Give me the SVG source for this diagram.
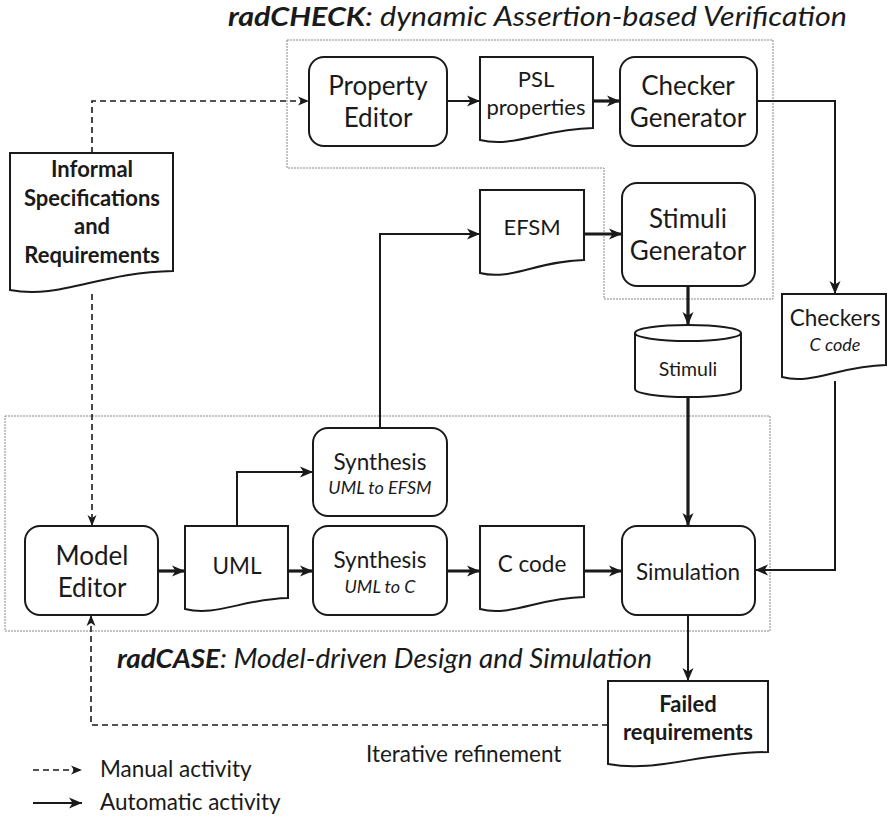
<svg xmlns="http://www.w3.org/2000/svg" width="888" height="820" viewBox="0 0 888 820">
  <style>
    text { font-family: Lato, "Liberation Sans", sans-serif; fill: #1a1a1a; }
    .c { text-anchor: middle; }
    .box { fill: #fff; stroke: #1a1a1a; stroke-width: 2; }
    .region { fill: none; stroke: #888; stroke-width: 1; stroke-dasharray: 2 1; }
    .thin { fill: none; stroke: #1a1a1a; stroke-width: 2; marker-end: url(#ah); }
    .thick { fill: none; stroke: #1a1a1a; stroke-width: 3.2; marker-end: url(#ah); }
    .manual { fill: none; stroke: #1a1a1a; stroke-width: 1.6; stroke-dasharray: 6 4; marker-end: url(#ahs); }
    .t24 { font-size: 26px; }
    .t21 { font-size: 22.5px; }
    .t20 { font-size: 22px; }
    .t18 { font-size: 19.5px; }
    .it { font-size: 18px; font-style: italic; }
    .b { font-size: 22px; font-weight: bold; }
    .lbl { font-size: 22.5px; }
    .head { font-size: 27px; font-style: italic; }
  </style>
  <defs>
    <marker id="ah" markerUnits="userSpaceOnUse" markerWidth="14" markerHeight="12" refX="13" refY="6" orient="auto">
      <path d="M0,0.5 L13,6 L0,11.5 L3.5,6 Z" fill="#1a1a1a"/>
    </marker>
    <marker id="ahs" markerUnits="userSpaceOnUse" markerWidth="12" markerHeight="10" refX="11" refY="5" orient="auto">
      <path d="M0,0.5 L11,5 L0,9.5 L3,5 Z" fill="#1a1a1a"/>
    </marker>
  </defs>

  <!-- tool regions -->
  <g id="region-radcheck">
    <path class="region" d="M287,40 H773 V299 H604 V168 H287 Z"/>
    <text class="head" x="228" y="26" textLength="619" lengthAdjust="spacingAndGlyphs"><tspan font-weight="bold">radCHECK</tspan>: dynamic Assertion-based Verification</text>
  </g>
  <g id="region-radcase">
    <rect class="region" x="5" y="416" width="765" height="215"/>
    <text class="head" x="117" y="668" textLength="535" lengthAdjust="spacingAndGlyphs"><tspan font-weight="bold">radCASE</tspan>: Model-driven Design and Simulation</text>
  </g>

  <!-- connectors -->
  <g id="connectors">
    <path class="manual" d="M92,153 V101 H309"/>
    <path class="manual" d="M92,294 V526"/>
    <path class="manual" d="M608,725 H91 V615"/>
    <path class="thin" d="M447,101 H480"/>
    <path class="thick" d="M593,101 H620"/>
    <path class="thin" d="M757,101 H835 V294"/>
    <path class="thick" d="M584,234 H622"/>
    <path class="thick" d="M688,286 V325"/>
    <path class="thin" d="M380,428 V234 H480"/>
    <path class="thick" d="M688,397 V526"/>
    <path class="thin" d="M835,381 V570 H755"/>
    <path class="thick" d="M158,571 H185"/>
    <path class="thick" d="M288,571 H313"/>
    <path class="thick" d="M447,571 H480"/>
    <path class="thick" d="M584,571 H622"/>
    <path class="thin" d="M237,526 V472 H313"/>
    <path class="thin" d="M688,615 V681"/>
  </g>

  <!-- nodes -->
  <g id="informal-specs">
    <path class="box" d="M10,153 H173 V271 C100,272 59,300 10,290 Z"/>
    <text class="c b" x="92" y="177">Informal</text>
    <text class="c b" x="92" y="206">Specifications</text>
    <text class="c b" x="92" y="234">and</text>
    <text class="c b" x="92" y="263">Requirements</text>
  </g>
  <g id="property-editor">
    <rect class="box" x="309" y="57" width="138" height="89" rx="15"/>
    <text class="c t24" x="378" y="95">Property</text>
    <text class="c t24" x="378" y="127">Editor</text>
  </g>
  <g id="psl-properties">
    <path class="box" d="M480,57 H593 V128 C542,129 514,148 480,140 Z"/>
    <text class="c t20" x="536" y="87">PSL</text>
    <text class="c t20" x="536" y="115">properties</text>
  </g>
  <g id="checker-generator">
    <rect class="box" x="620" y="57" width="137" height="89" rx="15"/>
    <text class="c t24" x="688" y="95">Checker</text>
    <text class="c t24" x="688" y="127">Generator</text>
  </g>
  <g id="efsm">
    <path class="box" d="M480,190 H584 V260 C537,261 511,281 480,273 Z"/>
    <text class="c t20" x="532" y="235">EFSM</text>
  </g>
  <g id="stimuli-generator">
    <rect class="box" x="622" y="183" width="133" height="103" rx="15"/>
    <text class="c t24" x="688" y="228">Stimuli</text>
    <text class="c t24" x="688" y="260">Generator</text>
  </g>
  <g id="stimuli">
    <path class="box" d="M635,333 V389 A53,8 0 0 0 741,389 V333"/>
    <ellipse class="box" cx="688" cy="333" rx="53" ry="8"/>
    <text class="c t18" x="688" y="376">Stimuli</text>
  </g>
  <g id="checkers">
    <path class="box" d="M782,294 H886 V365 C839,366 813,385 782,377 Z"/>
    <text class="c t21" x="835" y="326">Checkers</text>
    <text class="c it" x="835" y="351">C code</text>
  </g>
  <g id="model-editor">
    <rect class="box" x="25" y="526" width="133" height="89" rx="15"/>
    <text class="c t24" x="92" y="565">Model</text>
    <text class="c t24" x="92" y="597">Editor</text>
  </g>
  <g id="uml">
    <path class="box" d="M185,526 H288 V598 C242,599 216,617 185,609 Z"/>
    <text class="c t21" x="237" y="574">UML</text>
  </g>
  <g id="synthesis-efsm">
    <rect class="box" x="313" y="428" width="134" height="88" rx="15"/>
    <text class="c t21" x="380" y="470">Synthesis</text>
    <text class="c it" x="380" y="494">UML to EFSM</text>
  </g>
  <g id="synthesis-c">
    <rect class="box" x="313" y="526" width="134" height="89" rx="15"/>
    <text class="c t21" x="380" y="568">Synthesis</text>
    <text class="c it" x="380" y="593">UML to C</text>
  </g>
  <g id="c-code">
    <path class="box" d="M480,526 H584 V597 C537,598 511,617 480,609 Z"/>
    <text class="c t21" x="532" y="572">C code</text>
  </g>
  <g id="simulation">
    <rect class="box" x="622" y="526" width="133" height="89" rx="15"/>
    <text class="c t21" x="688" y="580">Simulation</text>
  </g>
  <g id="failed-requirements">
    <path class="box" d="M608,681 H768 V752 C696,753 656,773 608,764 Z"/>
    <text class="c b" x="688" y="712">Failed</text>
    <text class="c b" x="688" y="740">requirements</text>
  </g>

  <!-- loop label and legend -->
  <g id="labels">
    <text class="lbl" x="366" y="762">Iterative refinement</text>
  </g>
  <g id="legend">
    <path class="manual" d="M33,770 H82"/>
    <text class="lbl" x="100" y="777">Manual activity</text>
    <path class="thin" d="M33,803 H82"/>
    <text class="lbl" x="100" y="810">Automatic  activity</text>
  </g>
</svg>
